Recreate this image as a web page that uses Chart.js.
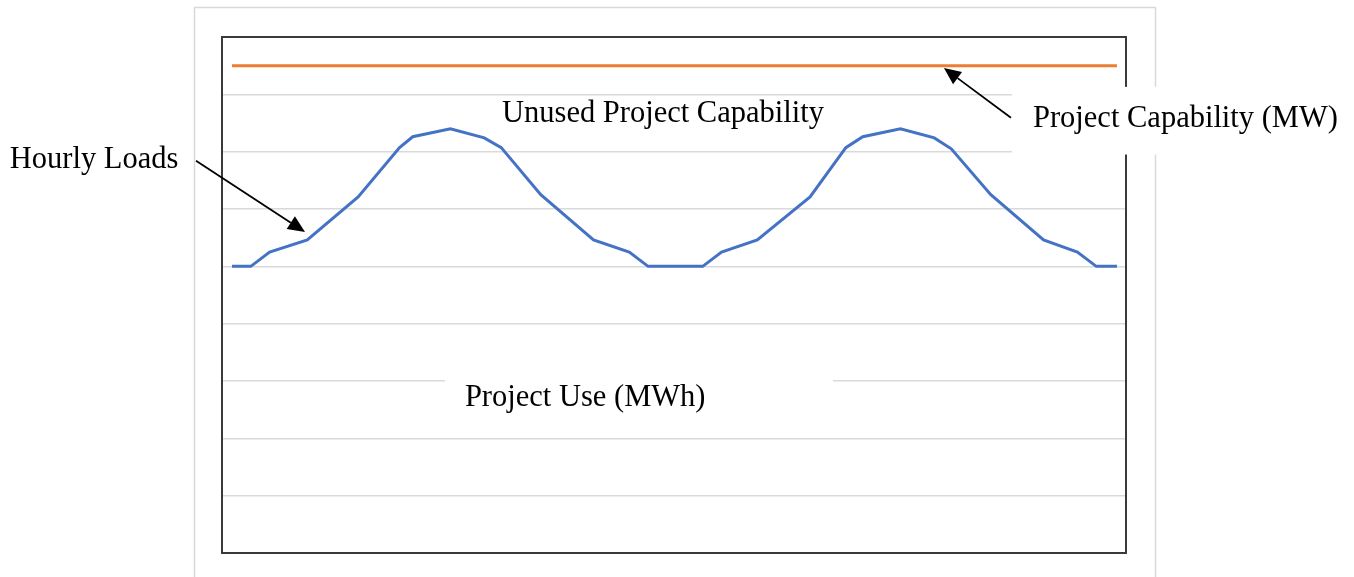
<!DOCTYPE html>
<html lang="en">

<head>
    <meta charset="UTF-8">
    <title>Project Use vs Capability</title>
    <style>
        html, body { margin: 0; padding: 0; background: #fff; }
        #loadChart { display: block; }
    </style>
</head>

<body>
    <canvas id="loadChart" width="1354" height="577"></canvas>
</body>

<script src="https://cdn.jsdelivr.net/npm/chart.js"></script>

<script>
    // hourly load curve over two days (hour, MW)
    const loadHours = [0, 1, 2, 4.0, 6.7, 8.9, 9.6, 11.6, 13.4, 14.3, 16.4, 19.2, 21.1, 22.1,
        25.0, 26.0, 27.9, 30.7, 32.6, 33.5, 35.5, 37.3, 38.2, 40.3, 43.1, 44.9, 45.9, 47];
    const loadMW = [50, 50, 52.5, 54.6, 62.1, 70.7, 72.6, 74.0, 72.4, 70.7, 62.5, 54.6, 52.5, 50,
        50, 52.5, 54.6, 62.1, 70.7, 72.6, 74.0, 72.4, 70.5, 62.5, 54.6, 52.5, 50, 50];

    // flat project capability
    const capHours = [0, 47];
    const capMW = [85, 85];

    const yTicks = [0, 10, 20, 30, 40, 50, 60, 70, 80, 90];

    // text labels, positioned in data units (hour, MW)
    const labels = [
        { text: 'Hourly Loads', x: -11.8, y: 67.2 },
        { text: 'Unused Project Capability', x: 14.34, y: 75.2 },
        { text: 'Project Capability (MW)', x: 42.54, y: 74.3, box: [41.42, 81.3, 60, 69.5] },
        { text: 'Project Use (MWh)', x: 12.37, y: 25.65, box: [11.31, 31.1, 31.92, 23.2] },
    ];
    const arrows = [
        { from: [-1.91, 68.4], to: [3.88, 56.0] },
        { from: [41.37, 75.9], to: [37.81, 84.6] },
    ];

    const annotate = {
        id: 'annotate',
        beforeDraw(chart) {
            const ctx = chart.ctx;
            ctx.save();
            ctx.strokeStyle = '#d9d9d9';
            ctx.lineWidth = 1.5;
            ctx.strokeRect(194.5, 7.5, 961, 620);
            ctx.restore();
        },
        beforeDatasetsDraw(chart) {
            const { ctx, chartArea: a } = chart;
            ctx.save();
            ctx.strokeStyle = '#3a3a3a';
            ctx.lineWidth = 2;
            ctx.strokeRect(a.left, a.top, a.right - a.left, a.bottom - a.top);
            ctx.restore();
        },
        afterDraw(chart) {
            const ctx = chart.ctx;
            const sx = chart.scales.x, sy = chart.scales.y;
            const px = v => sx.getPixelForValue(v);
            const py = v => sy.getPixelForValue(v);
            ctx.save();
            labels.forEach(l => {
                if (l.box) {
                    ctx.fillStyle = '#fff';
                    const x0 = px(l.box[0]), y0 = py(l.box[1]);
                    ctx.fillRect(x0, y0, px(l.box[2]) - x0, py(l.box[3]) - y0);
                }
            });
            ctx.fillStyle = '#000';
            ctx.font = '30.5px "Liberation Serif", "Times New Roman", serif';
            ctx.textBaseline = 'alphabetic';
            labels.forEach(l => ctx.fillText(l.text, px(l.x), py(l.y)));

            arrows.forEach(ar => {
                const x1 = px(ar.from[0]), y1 = py(ar.from[1]);
                const x2 = px(ar.to[0]), y2 = py(ar.to[1]);
                const ang = Math.atan2(y2 - y1, x2 - x1);
                const len = 17, half = 7.5;
                const bx = x2 - len * Math.cos(ang), by = y2 - len * Math.sin(ang);
                ctx.strokeStyle = '#000';
                ctx.lineWidth = 1.8;
                ctx.beginPath();
                ctx.moveTo(x1, y1);
                ctx.lineTo(bx, by);
                ctx.stroke();
                ctx.beginPath();
                ctx.moveTo(x2, y2);
                ctx.lineTo(bx + half * Math.sin(ang), by - half * Math.cos(ang));
                ctx.lineTo(bx - half * Math.sin(ang), by + half * Math.cos(ang));
                ctx.closePath();
                ctx.fill();
            });
            ctx.restore();
        }
    };

    new Chart(document.getElementById('loadChart').getContext('2d'), {
        type: 'line',
        data: {
            datasets: [
                {
                    label: 'Project Capability (MW)',
                    data: capHours.map((h, i) => ({ x: h, y: capMW[i] })),
                    borderColor: '#ED7D31',
                    borderWidth: 3,
                    pointRadius: 0,
                },
                {
                    label: 'Hourly Loads',
                    data: loadHours.map((h, i) => ({ x: h, y: loadMW[i] })),
                    borderColor: '#4472C4',
                    borderWidth: 3,
                    pointRadius: 0,
                }
            ]
        },
        options: {
            responsive: false,
            animation: false,
            events: [],
            layout: { padding: { left: 222, top: 37, right: 228, bottom: 24 } },
            plugins: { legend: { display: false }, tooltip: { enabled: false } },
            scales: {
                x: {
                    type: 'linear',
                    min: -0.53,
                    max: 47.48,
                    display: true,
                    grid: { display: false, drawTicks: false },
                    border: { display: false },
                    ticks: { display: false }
                },
                y: {
                    min: yTicks[0],
                    max: yTicks[yTicks.length - 1],
                    afterBuildTicks: s => { s.ticks = yTicks.map(v => ({ value: v })); },
                    grid: { color: '#d9d9d9', lineWidth: 1.5, drawTicks: false },
                    border: { display: false },
                    ticks: { display: false }
                }
            }
        },
        plugins: [annotate]
    });
</script>

</html>
